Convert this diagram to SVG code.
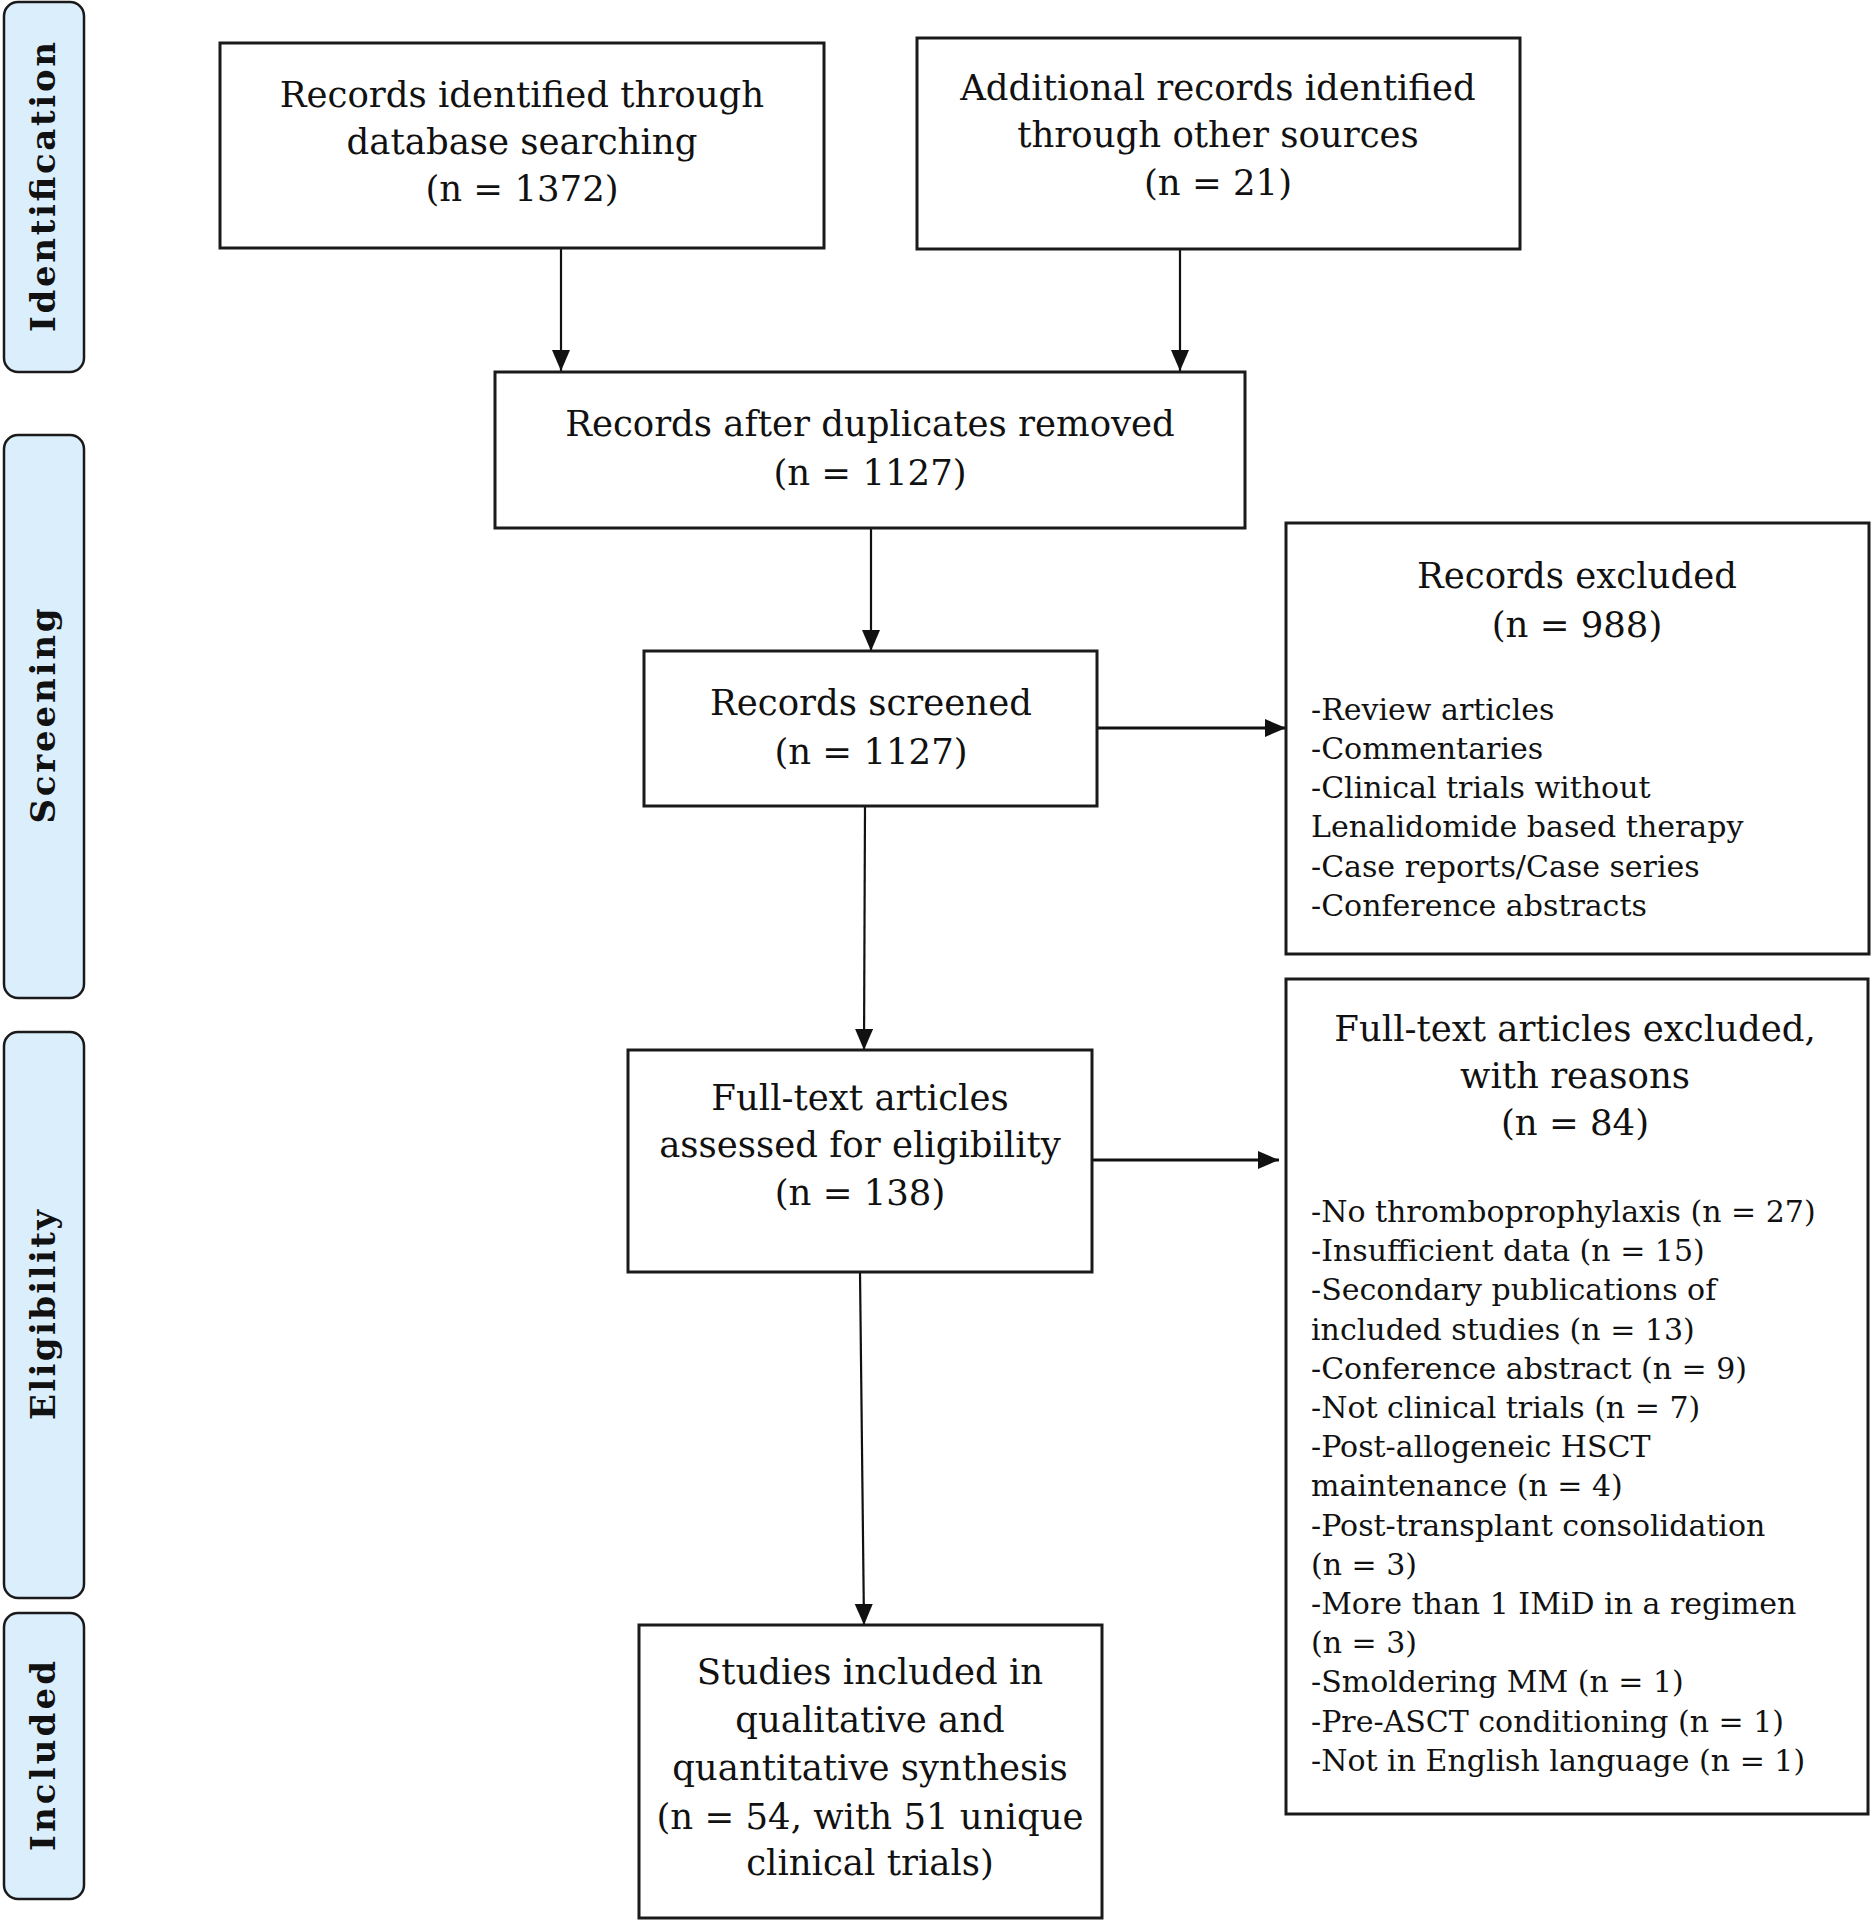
<svg xmlns="http://www.w3.org/2000/svg" width="1873" height="1920" viewBox="0 0 1873 1920">
<style>
.box{fill:#fff;stroke:#1a1a1a;stroke-width:3}
.side{fill:#dbeefc;stroke:#1a1a1a;stroke-width:2.5}
.t{font-family:"DejaVu Serif","Liberation Serif",serif;font-size:35.5px;fill:#111;text-anchor:middle}
.it{font-family:"DejaVu Serif","Liberation Serif",serif;font-size:30px;fill:#111}
.sl{font-family:"DejaVu Serif","Liberation Serif",serif;font-size:34px;font-weight:bold;fill:#111;text-anchor:middle}
.c{stroke:#111;stroke-width:2.2;fill:none}
</style>
<defs>
<marker id="ah" markerUnits="userSpaceOnUse" markerWidth="22" markerHeight="20" refX="21" refY="9" orient="auto">
<path d="M0,0 L21,9 L0,18 Z" fill="#111"/>
</marker>
</defs>
<rect width="1873" height="1920" fill="#fff"/>
<g id="phase-identification"><rect class="side" x="4" y="2" width="80" height="370" rx="14"/><text class="sl" transform="translate(55,187) rotate(-90)" textLength="290" lengthAdjust="spacing">Identification</text></g>
<g id="phase-screening"><rect class="side" x="4" y="435" width="80" height="563" rx="14"/><text class="sl" transform="translate(55,716) rotate(-90)" textLength="215" lengthAdjust="spacing">Screening</text></g>
<g id="phase-eligibility"><rect class="side" x="4" y="1032" width="80" height="566" rx="14"/><text class="sl" transform="translate(55,1315) rotate(-90)" textLength="210" lengthAdjust="spacing">Eligibility</text></g>
<g id="phase-included"><rect class="side" x="4" y="1613" width="80" height="286" rx="14"/><text class="sl" transform="translate(55,1756) rotate(-90)" textLength="190" lengthAdjust="spacing">Included</text></g>
<g id="connectors">
<line class="c" x1="561" y1="248" x2="561" y2="371" marker-end="url(#ah)"/>
<line class="c" x1="1180" y1="249" x2="1180" y2="371" marker-end="url(#ah)"/>
<line class="c" x1="871" y1="528" x2="871" y2="651" marker-end="url(#ah)"/>
<line class="c" x1="1097" y1="728" x2="1286" y2="728" marker-end="url(#ah)" style="stroke-width:3"/>
<line class="c" x1="865" y1="806" x2="864" y2="1050" marker-end="url(#ah)"/>
<line class="c" x1="1092" y1="1160" x2="1279" y2="1160" marker-end="url(#ah)" style="stroke-width:3"/>
<line class="c" x1="860" y1="1272" x2="864" y2="1625" marker-end="url(#ah)"/>
</g>
<g id="records-database"><rect class="box" x="220" y="43" width="604" height="205"/>
<text class="t" x="522" y="107">Records identified through</text>
<text class="t" x="522" y="154">database searching</text>
<text class="t" x="522" y="201">(n = 1372)</text></g>
<g id="records-other"><rect class="box" x="917" y="38" width="603" height="211"/>
<text class="t" x="1218" y="100">Additional records identified</text>
<text class="t" x="1218" y="147">through other sources</text>
<text class="t" x="1218" y="195">(n = 21)</text></g>
<g id="records-dedup"><rect class="box" x="495" y="372" width="750" height="156"/>
<text class="t" x="870" y="436">Records after duplicates removed</text>
<text class="t" x="870" y="485">(n = 1127)</text></g>
<g id="records-screened"><rect class="box" x="644" y="651" width="453" height="155"/>
<text class="t" x="871" y="715">Records screened</text>
<text class="t" x="871" y="764">(n = 1127)</text></g>
<g id="records-excluded"><rect class="box" x="1286" y="523" width="583" height="431"/>
<text class="t" x="1577" y="588">Records excluded</text>
<text class="t" x="1577" y="637">(n = 988)</text>
<text class="it" x="1311" y="720">-Review articles</text>
<text class="it" x="1311" y="759">-Commentaries</text>
<text class="it" x="1311" y="798">-Clinical trials without</text>
<text class="it" x="1311" y="837">Lenalidomide based therapy</text>
<text class="it" x="1311" y="877">-Case reports/Case series</text>
<text class="it" x="1311" y="916">-Conference abstracts</text></g>
<g id="fulltext-assessed"><rect class="box" x="628" y="1050" width="464" height="222"/>
<text class="t" x="860" y="1110">Full-text articles</text>
<text class="t" x="860" y="1157">assessed for eligibility</text>
<text class="t" x="860" y="1205">(n = 138)</text></g>
<g id="fulltext-excluded"><rect class="box" x="1286" y="979" width="582" height="835"/>
<text class="t" x="1575" y="1041">Full-text articles excluded,</text>
<text class="t" x="1575" y="1088">with reasons</text>
<text class="t" x="1575" y="1135">(n = 84)</text>
<text class="it" x="1311" y="1222">-No thromboprophylaxis (n = 27)</text>
<text class="it" x="1311" y="1261">-Insufficient data (n = 15)</text>
<text class="it" x="1311" y="1300">-Secondary publications of</text>
<text class="it" x="1311" y="1340">included studies (n = 13)</text>
<text class="it" x="1311" y="1379">-Conference abstract (n = 9)</text>
<text class="it" x="1311" y="1418">-Not clinical trials (n = 7)</text>
<text class="it" x="1311" y="1457">-Post-allogeneic HSCT</text>
<text class="it" x="1311" y="1496">maintenance (n = 4)</text>
<text class="it" x="1311" y="1536">-Post-transplant consolidation</text>
<text class="it" x="1311" y="1575">(n = 3)</text>
<text class="it" x="1311" y="1614">-More than 1 IMiD in a regimen</text>
<text class="it" x="1311" y="1653">(n = 3)</text>
<text class="it" x="1311" y="1692">-Smoldering MM (n = 1)</text>
<text class="it" x="1311" y="1732">-Pre-ASCT conditioning (n = 1)</text>
<text class="it" x="1311" y="1771">-Not in English language (n = 1)</text></g>
<g id="studies-included"><rect class="box" x="639" y="1625" width="463" height="293"/>
<text class="t" x="870" y="1684">Studies included in</text>
<text class="t" x="870" y="1732">qualitative and</text>
<text class="t" x="870" y="1780">quantitative synthesis</text>
<text class="t" x="870" y="1829">(n = 54, with 51 unique</text>
<text class="t" x="870" y="1875">clinical trials)</text></g>
</svg>
